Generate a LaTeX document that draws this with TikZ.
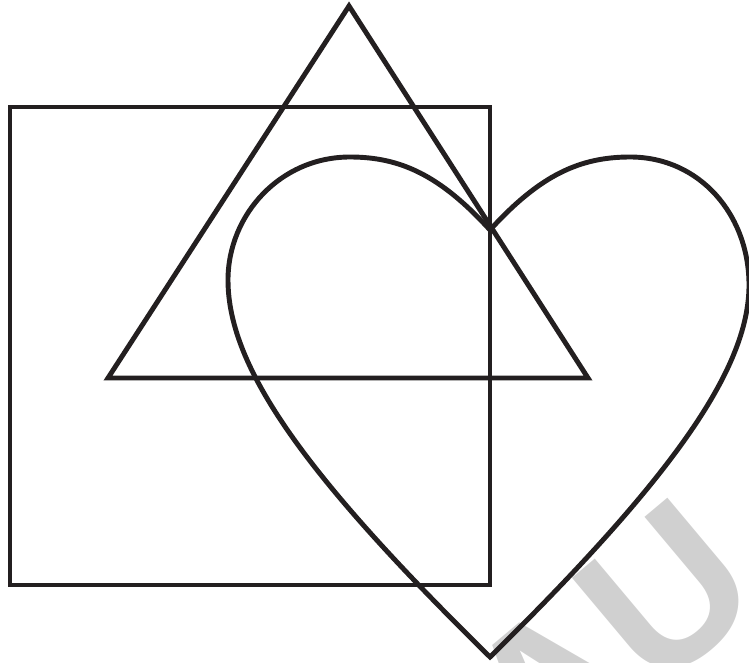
\documentclass[tikz,border=0pt]{standalone}
\usepackage{fontspec}
\usepackage{tikz}
\usetikzlibrary{calc}
\definecolor{inkblack}{HTML}{231f20}
\definecolor{markgray}{HTML}{d0d0d0}

\begin{document}
\begin{tikzpicture}[
    x=0.02cm, y=-0.02cm,
    shape line/.style={draw=inkblack, line width=2.8pt, line join=miter},
    watermark/.style={text=markgray, font=\fontspec{Liberation Sans Bold}\fontsize{118}{118}\selectfont, rotate=40, inner sep=0pt}
]
    \useasboundingbox (0,0) rectangle (749,662);

    % watermark behind the shapes
    \node[watermark, anchor=base west] (mark) at (540,792) {AU};

    % square
    \draw[shape line] (10,107) rectangle (490,585);

    % triangle
    \coordinate (apex) at (349,6);
    \coordinate (baseL) at (108,378);
    \coordinate (baseR) at (588,378);
    \draw[shape line] (apex) -- (baseR) -- (baseL) -- cycle;

    % heart
    \coordinate (cusp) at (490,230);
    \coordinate (tip) at (490,657);
    \draw[shape line] (cusp)
        .. controls (440,175) and (400,157) .. (350,157)
        .. controls (280,157) and (228,215) .. (228,280)
        .. controls (228,370) and (310,480) .. (tip)
        .. controls (670,480) and (749,370) .. (749,285)
        .. controls (749,215) and (700,157) .. (630,157)
        .. controls (580,157) and (540,175) .. (cusp);
\end{tikzpicture}
\end{document}
